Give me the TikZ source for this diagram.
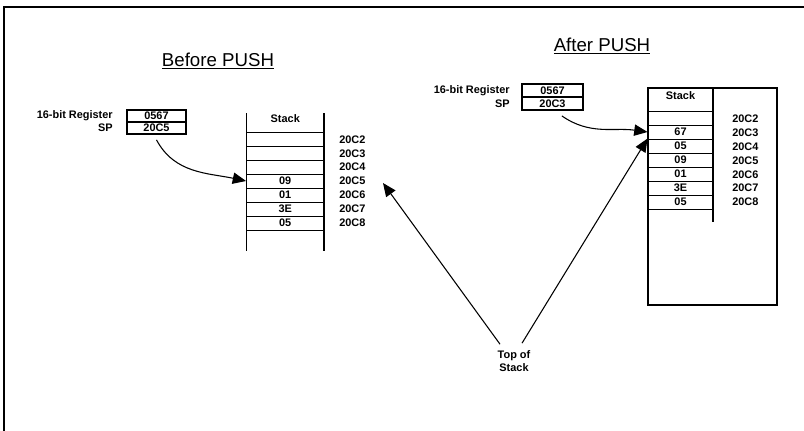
\documentclass[tikz,border=0pt]{standalone}
\usepackage{fontspec}
\setmainfont{Liberation Sans}
\usetikzlibrary{arrows.meta,calc}
\begin{document}
\begin{tikzpicture}[x=0.75pt,y=-0.75pt,
  small/.style={font=\fontsize{8.2}{9.8}\selectfont\bfseries, inner sep=0pt},
  title/.style={font=\fontsize{14}{16}\selectfont, inner sep=0pt, anchor=base},
  regbox/.style={draw, line width=0.8pt, small, minimum width=44.25pt, minimum height=9pt},
  rregbox/.style={draw, line width=0.8pt, small, minimum width=45.75pt, minimum height=9.75pt},
  lcell/.style={draw, line width=0.7pt, small, minimum width=58.1pt, minimum height=10.5pt},
  rcell/.style={draw, line width=0.7pt, small, minimum width=48.75pt, minimum height=10.5pt},
  addr/.style={small, anchor=west},
  lbl/.style={small, anchor=east},
  conn/.style={line width=0.8pt, -{Triangle[length=10pt,width=8.5pt]}}
]
\useasboundingbox (0,0) rectangle (804,430);
% frame
\draw[line width=1.2pt] (4,440) -- (4,7) -- (810,7);

% titles
\node[title] (tb) at (218,66) {\underline{Before PUSH}};
\node[title] (ta) at (602,51) {\underline{After PUSH}};

% ---------- Before ----------
\node[lbl] (lregl) at (113,116) {16-bit Register};
\node[lbl] (lspl) at (113,128) {SP};
\node[regbox] (lreg) at (156.5,116) {0567};
\node[regbox] (lsp) at (156.5,128) {20C5};

\draw[line width=0.8pt] (246.5,113) -- (246.5,251);
\draw[line width=0.8pt] (324,113) -- (324,251);
\node[small] (lhead) at (285.25,119) {Stack};
\node[lcell] (l2) at (285.25,139) {};
\node[lcell] (l3) at (285.25,153) {};
\node[lcell] (l4) at (285.25,167) {};
\node[lcell] (l09) at (285.25,181) {09};
\node[lcell] (l01) at (285.25,195) {01};
\node[lcell] (l3E) at (285.25,209) {3E};
\node[lcell] (l05) at (285.25,223) {05};
\node[addr] (la2) at (339,140) {20C2};
\node[addr] (la3) at (339,153.5) {20C3};
\node[addr] (la4) at (339,167) {20C4};
\node[addr] (la5) at (339,181) {20C5};
\node[addr] (la6) at (339,195) {20C6};
\node[addr] (la7) at (339,209) {20C7};
\node[addr] (la8) at (339,223) {20C8};

\draw[conn] ([yshift=-4pt]lsp.south) to[out=-62,in=168] (l09.west);

% ---------- After ----------
\node[lbl] (rregl) at (510,90.5) {16-bit Register};
\node[lbl] (rspl) at (510,103.5) {SP};
\node[rregbox] (rreg) at (552.5,90.5) {0567};
\node[rregbox] (rsp) at (552.5,103.5) {20C3};

\node[draw, line width=1.3pt, minimum width=96.75pt, minimum height=162.75pt, inner sep=0pt] (rstack) at (712.5,196.5) {};
\draw[line width=0.8pt] (713,88) -- (713,222);
\node[small] (rhead) at (680.5,96) {Stack};
\node[rcell] (r2) at (680.5,118) {};
\node[rcell] (r67) at (680.5,132) {67};
\node[rcell] (r05a) at (680.5,146) {05};
\node[rcell] (r09) at (680.5,160) {09};
\node[rcell] (r01) at (680.5,174) {01};
\node[rcell] (r3E) at (680.5,188) {3E};
\node[rcell] (r05) at (680.5,202) {05};
\node[addr] (ra2) at (732,119) {20C2};
\node[addr] (ra3) at (732,133) {20C3};
\node[addr] (ra4) at (732,147) {20C4};
\node[addr] (ra5) at (732,160.5) {20C5};
\node[addr] (ra6) at (732,174.5) {20C6};
\node[addr] (ra7) at (732,188) {20C7};
\node[addr] (ra8) at (732,202) {20C8};

\draw[conn] ([xshift=7pt,yshift=-4pt]rsp.south) to[out=-35,in=172] (r67.west);

% ---------- Top of Stack ----------
\node[small, align=center] (tos) at (514,361) {Top of\\Stack};
\coordinate (ltip) at (383,183);
\draw[conn] ($(tos.north)+(-14,-6)$) -- (ltip);
\draw[conn] ($(tos.north)+(8,-7)$) -- (r05a.north west);
\end{tikzpicture}
\end{document}
